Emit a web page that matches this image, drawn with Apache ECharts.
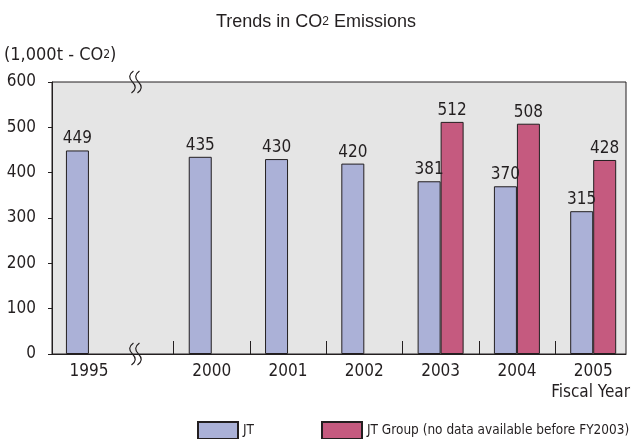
<!DOCTYPE html>
<html>
<head>
<meta charset="utf-8">
<script src="https://cdn.jsdelivr.net/npm/echarts@6/dist/echarts.min.js"></script>
<style>
  html, body { margin: 0; padding: 0; background: #fff; }
  #chart { width: 632px; height: 439px; }
</style>
</head>
<body>
<div id="chart"></div>
<script>
// Fiscal years and emissions (1,000t-CO2)
const years = [1995, 2000, 2001, 2002, 2003, 2004, 2005];
const jtValues = [449, 435, 430, 420, 381, 370, 315];
const groupValues = [null, null, null, null, 512, 508, 428];
const yTicks = [0, 100, 200, 300, 400, 500, 600];
const seriesNames = ['JT', 'JT Group (no data available before FY2003)'];

// Horizontal scale: one slot per year from 2000 on; the years before 2000
// are squeezed into a short segment behind the axis break.
const BREAK_SPAN = 1.61;
function slotOf(year) {
  return year >= 2000 ? year - 2000 : -BREAK_SPAN * (2000 - year) / 5;
}
const slots = years.map(slotOf);
const breakSlot = -1.0;
const dividerSlots = [slotOf(2000) - 0.5];
for (let i = 1; i < years.length; i++) {
  if (years[i - 1] >= 2000) dividerSlots.push((slotOf(years[i - 1]) + slotOf(years[i])) / 2);
}

const FONT = "'Liberation Sans Narrow', 'DejaVu Sans Condensed', 'Liberation Sans', sans-serif";
const TITLE_FONT = "'Liberation Sans', Arial, sans-serif";
const TXT = '#231f20';

const chart = echarts.init(document.getElementById('chart'), null, { renderer: 'canvas' });

function legendAt(left, name) {
  return {
    left: left,
    top: 421,
    padding: 0,
    itemWidth: 40,
    itemHeight: 17,
    itemGap: 0,
    icon: 'rect',
    textStyle: { fontFamily: FONT, fontSize: 13.5, color: TXT, padding: [0, 0, 0, 0] },
    data: [name]
  };
}

const option = {
  animation: false,
  backgroundColor: '#ffffff',
  title: {
    text: 'Trends in CO{s|2} Emissions',
    left: 'center',
    top: 8,
    textStyle: {
      fontFamily: TITLE_FONT,
      fontSize: 18,
      fontWeight: 'normal',
      color: TXT,
      rich: { s: { fontSize: 12, fontFamily: TITLE_FONT, color: TXT } }
    }
  },
  legend: [legendAt(197, seriesNames[0]), legendAt(321, seriesNames[1])],
  grid: {
    left: 52, right: 6, top: 82, bottom: 85,
    show: true,
    backgroundColor: '#e5e5e5',
    borderColor: '#231f20',
    borderWidth: 1
  },
  xAxis: {
    type: 'value',
    min: -2.094,
    max: 5.43,
    splitLine: { show: false },
    axisLine: { show: true, onZero: false, lineStyle: { color: '#231f20', width: 1 } },
    axisTick: {
      show: true,
      inside: true,
      length: 13,
      customValues: dividerSlots,
      lineStyle: { color: '#231f20', width: 1 }
    },
    axisLabel: {
      customValues: slots,
      margin: 9,
      fontFamily: FONT,
      fontSize: 17,
      color: TXT,
      formatter: function (v) {
        const i = slots.findIndex(s => Math.abs(s - v) < 1e-6);
        return i >= 0 ? String(years[i]) : '';
      }
    }
  },
  yAxis: {
    type: 'value',
    min: 0,
    max: 600,
    interval: 100,
    splitLine: { show: false },
    axisLine: { show: true, onZero: false, lineStyle: { color: '#231f20', width: 1 } },
    axisTick: { show: true, inside: false, length: 4, lineStyle: { color: '#231f20' } },
    axisLabel: {
      margin: 16,
      fontFamily: FONT,
      fontSize: 17,
      color: TXT,
      customValues: yTicks
    }
  },
  series: [
    {
      name: seriesNames[0],
      type: 'bar',
      barWidth: 23,
      barGap: '0%',
      data: years.map((y, i) => [slots[i], jtValues[i]]),
      itemStyle: { color: '#abb1d7', borderColor: '#231f20', borderWidth: 1 },
      label: {
        show: true, position: 'top', distance: 3,
        fontFamily: FONT, fontSize: 17, color: TXT,
        formatter: p => String(p.value[1])
      }
    },
    {
      name: seriesNames[1],
      type: 'bar',
      barWidth: 23,
      barGap: '0%',
      data: years.map((y, i) => [slots[i], groupValues[i]]),
      itemStyle: { color: '#c55a7f', borderColor: '#231f20', borderWidth: 1 },
      label: {
        show: true, position: 'top', distance: 3,
        fontFamily: FONT, fontSize: 17, color: TXT,
        formatter: p => String(p.value[1])
      }
    }
  ]
};

chart.setOption(option);

// Axis-break marks: two parallel S-strokes across the top and bottom frame lines
function squiggle(cx, cy) {
  const h = 11;
  const parts = [];
  [-3, 3].forEach(dx => {
    const x = cx + dx;
    const style = { fill: null, stroke: '#231f20', lineWidth: 1.2 };
    parts.push({
      type: 'bezierCurve',
      shape: { x1: x + 1, y1: cy - h, cpx1: x - 6, cpy1: cy - 6, x2: x, y2: cy },
      style: style,
      z: 100
    });
    parts.push({
      type: 'bezierCurve',
      shape: { x1: x, y1: cy, cpx1: x + 6, cpy1: cy + 6, x2: x - 1, y2: cy + h },
      style: style,
      z: 100
    });
  });
  return parts;
}
const topPt = chart.convertToPixel({ gridIndex: 0 }, [breakSlot, 600]);
const botPt = chart.convertToPixel({ gridIndex: 0 }, [breakSlot, 0]);
chart.setOption({
  graphic: [
    ...squiggle(topPt[0], topPt[1]),
    ...squiggle(botPt[0], botPt[1]),
    {
      type: 'text',
      left: 4,
      top: 46,
      style: {
        text: '(1,000t - CO{s|2})',
        font: '18px ' + FONT,
        fill: TXT,
        rich: { s: { fontSize: 12, fontFamily: FONT, fill: TXT } }
      }
    },
    {
      type: 'text',
      right: 2,
      top: 384,
      style: { text: 'Fiscal Year', font: '17px ' + FONT, fill: TXT }
    }
  ]
});
</script>
</body>
</html>
